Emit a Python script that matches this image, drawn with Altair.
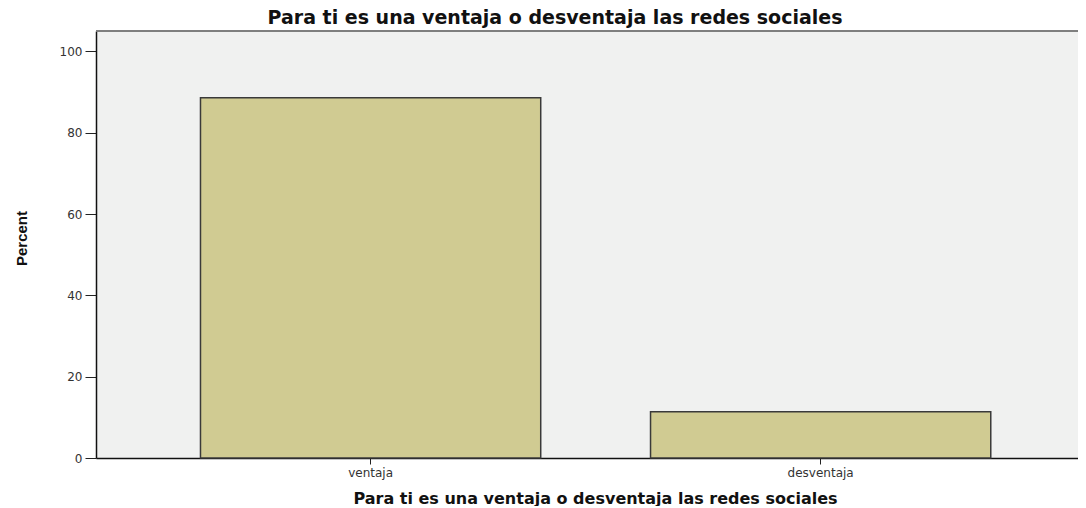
import altair as alt
import pandas as pd

categories = ["ventaja", "desventaja"]
percents = [88.6, 11.4]

df = pd.DataFrame({"cat": categories, "pct": percents})

title_text = "Para ti es una ventaja o desventaja las redes sociales"

bars = alt.Chart(df).mark_bar(
    fill="#D0CB92", stroke="#3a3a3a", strokeWidth=1.5
).encode(
    x=alt.X(
        "cat:N",
        sort=categories,
        scale=alt.Scale(paddingInner=0.244, paddingOuter=0.213, align=0.545),
        axis=alt.Axis(
            title=title_text,
            labelAngle=0,
            labelFont="DejaVu Sans",
            labelFontSize=12,
            labelColor="#333333",
            labelPadding=3,
            tickSize=6,
            tickColor="#222222",
            domainColor="#111111",
            domainWidth=1.5,
            titleFont="DejaVu Sans",
            titleFontWeight="bold",
            titleFontSize=16,
            titleColor="#111111",
            titleX=499,
            titleY=45,
            titleBaseline="alphabetic",
            titleAlign="center",
        ),
    ),
    y=alt.Y(
        "pct:Q",
        scale=alt.Scale(domain=[0, 105], nice=False),
        axis=alt.Axis(
            title="Percent",
            values=[0, 20, 40, 60, 80, 100],
            grid=False,
            labelFont="DejaVu Sans",
            labelFontSize=12,
            labelColor="#333333",
            labelPadding=3,
            tickSize=11,
            tickColor="#222222",
            domainColor="#111111",
            domainWidth=1.5,
            titleFont="Liberation Sans",
            titleFontWeight="bold",
            titleFontSize=15,
            titleColor="#111111",
            titleAngle=270,
            titleX=-75,
            titleY=207,
            titleAlign="center",
            titleBaseline="middle",
        ),
    ),
)

top_line = alt.Chart(df).mark_rule(color="#777777", strokeWidth=1.5).encode(
    y=alt.value(0)
)

chart = alt.layer(bars, top_line).properties(
    width=982,
    height=427,
    background="white",
    autosize=alt.AutoSizeParams(type="none"),
    padding={"left": 88, "top": 23, "right": 0, "bottom": 48},
    title=alt.TitleParams(
        text=title_text,
        font="DejaVu Sans",
        fontWeight="bold",
        fontSize=19,
        color="#111111",
        anchor="middle",
        frame="group",
        dx=-32,
        dy=21,
        offset=8,
        baseline="alphabetic",
    ),
).configure_view(
    fill="#F0F1F0", strokeWidth=0
)

chart.save("out.html", embed_options={"renderer": "svg", "actions": False})
